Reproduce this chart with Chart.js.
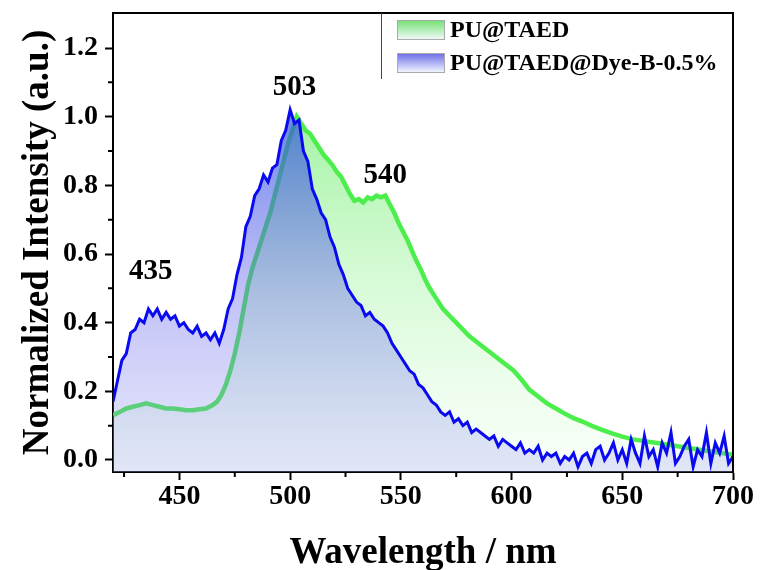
<!DOCTYPE html>
<html>
<head>
<meta charset="utf-8">
<style>
  html, body { margin: 0; padding: 0; background: #fff; }
  #wrap { width: 761px; height: 570px; position: relative; }
</style>
<script src="https://cdn.jsdelivr.net/npm/chart.js@4.4.1/dist/chart.umd.min.js"></script>
</head>
<body>
<div id="wrap"><canvas id="chartPL"></canvas></div>
<script>
// PU@TAED (green)
const greenNm = [420,423,426,429,432,435,438,441,444,447,450,453,456,459,462,465,467,469,471,473,
  475,477,479,481,483,485,487,489,491,493,495,497,499,501,503,505,507,509,511,513,515,517,519,521,
  523,525,527,529,531,533,535,537,539,541,543,545,547,549,551,553,555,557,559,561,563,566,569,572,
  575,578,581,584,587,590,594,598,601,605,608,612,616,620,624,628,632,636,640,645,650,655,660,665,
  670,675,680,685,690,695,700];
const greenY = [0.13,0.14,0.15,0.155,0.16,0.165,0.16,0.155,0.15,0.15,0.148,0.145,0.145,0.148,0.15,0.16,0.17,0.19,0.22,0.26,
  0.31,0.37,0.44,0.51,0.56,0.60,0.64,0.68,0.72,0.77,0.82,0.87,0.92,0.96,1.0,0.98,0.96,0.95,0.93,0.91,0.89,0.875,0.86,0.84,
  0.825,0.80,0.775,0.755,0.76,0.75,0.765,0.76,0.77,0.765,0.77,0.745,0.72,0.69,0.665,0.64,0.61,0.58,0.555,0.525,0.50,0.47,0.44,0.42,
  0.40,0.38,0.36,0.345,0.33,0.315,0.295,0.275,0.26,0.23,0.205,0.185,0.165,0.15,0.135,0.122,0.112,0.10,0.09,0.078,0.068,0.06,0.055,0.05,
  0.045,0.04,0.035,0.03,0.025,0.02,0.015];

// PU@TAED@Dye-B-0.5% (blue), every 2 nm from 420 to 700
const blueStart = 420, blueStep = 2;
const blueY = [0.17,0.23,0.29,0.31,0.37,0.38,0.41,0.40,0.44,0.42,0.44,0.41,0.43,0.41,0.42,0.39,0.40,0.38,0.37,0.39,
  0.36,0.37,0.35,0.37,0.34,0.38,0.44,0.47,0.54,0.59,0.68,0.71,0.77,0.79,0.83,0.81,0.85,0.86,0.93,0.96,
  1.02,0.98,0.99,0.90,0.87,0.79,0.76,0.72,0.70,0.65,0.62,0.57,0.54,0.50,0.48,0.46,0.45,0.42,0.43,0.41,
  0.40,0.39,0.37,0.34,0.32,0.30,0.28,0.26,0.25,0.22,0.21,0.19,0.17,0.16,0.14,0.13,0.14,0.11,0.12,0.10,
  0.11,0.08,0.09,0.08,0.07,0.06,0.07,0.04,0.06,0.05,0.04,0.03,0.05,0.02,0.03,0.02,0.04,0.00,0.02,0.01,
  0.02,-0.01,0.01,0.00,0.02,-0.02,0.01,0.02,-0.01,0.03,0.04,0.00,0.02,0.05,0.00,0.03,-0.01,0.06,0.02,-0.01,
  0.07,0.01,0.03,-0.02,0.05,0.02,0.08,-0.01,0.01,0.04,0.06,-0.02,0.03,0.01,0.08,-0.01,0.05,0.02,0.07,-0.01,0.01];

const xTicks = [450, 500, 550, 600, 650, 700];
const xMinor = [425, 475, 525, 575, 625, 675];
const yTicks = [0.0, 0.2, 0.4, 0.6, 0.8, 1.0, 1.2];
const yMinor = [0.1, 0.3, 0.5, 0.7, 0.9, 1.1];

const peakLabels = ["435", "503", "540"];
const peakLabelNm = [437, 502, 543];
const peakLabelY = [0.55, 1.085, 0.83];

const seriesNames = ["PU@TAED", "PU@TAED@Dye-B-0.5%"];

const SERIF = "'Liberation Serif', 'Times New Roman', serif";

function pts(xs, ys){ return ys.map((y, i) => ({ x: xs[i], y })); }
const blueNm = blueY.map((_, i) => blueStart + i * blueStep);

function vGrad(ctx, area, stops){
  const g = ctx.createLinearGradient(0, area.top + 100, 0, area.bottom);
  stops.forEach(([p, c]) => g.addColorStop(p, c));
  return g;
}
const greenStops = [[0, "rgba(60,230,60,0.48)"], [1, "rgba(190,250,190,0.1)"]];
const blueStops  = [[0, "rgba(45,80,225,0.70)"], [0.5, "rgba(100,100,235,0.40)"], [1, "rgba(145,145,240,0.22)"]];

const extras = {
  id: "extras",
  beforeDraw(chart){
    const c = chart.ctx;
    c.save(); c.fillStyle = "#fff"; c.fillRect(0, 0, chart.width, chart.height); c.restore();
  },
  afterDraw(chart){
    const c = chart.ctx, a = chart.chartArea;
    const xs = chart.scales.x, ys = chart.scales.y;
    c.save();
    // box
    c.strokeStyle = "#000"; c.lineWidth = 2;
    c.beginPath();
    c.moveTo(a.left, a.top); c.lineTo(a.right, a.top); c.lineTo(a.right, a.bottom);
    c.stroke();
    // minor ticks
    c.beginPath();
    yMinor.forEach(v => { const y = ys.getPixelForValue(v); c.moveTo(a.left - 5, y); c.lineTo(a.left, y); });
    xMinor.forEach(v => { const x = xs.getPixelForValue(v); c.moveTo(x, a.bottom); c.lineTo(x, a.bottom + 5); });
    c.stroke();
    // peak labels
    c.fillStyle = "#000";
    c.font = "bold 29px " + SERIF;
    c.textAlign = "center"; c.textBaseline = "middle";
    peakLabels.forEach((t, i) => c.fillText(t, xs.getPixelForValue(peakLabelNm[i]), ys.getPixelForValue(peakLabelY[i])));
    // legend
    const lx = 381, ly = a.top;
    c.strokeStyle = "#444"; c.lineWidth = 1;
    c.beginPath(); c.moveTo(lx + 0.5, ly); c.lineTo(lx + 0.5, ly + 66); c.stroke();
    const sw = [[greenStops, "#6fe06f"], [blueStops, "#6a6ae8"]];
    seriesNames.forEach((name, i) => {
      const top = ly + 7 + i * 33, h = 20, left = 397, w = 48;
      const g = c.createLinearGradient(0, top, 0, top + h);
      g.addColorStop(0, sw[i][1]); g.addColorStop(1, "#f6fbff");
      c.fillStyle = g; c.fillRect(left, top, w, h);
      c.strokeStyle = "#aaa"; c.strokeRect(left + 0.5, top + 0.5, w - 1, h - 1);
      c.fillStyle = "#000"; c.font = "bold 24px " + SERIF;
      c.textAlign = "left"; c.textBaseline = "middle";
      c.fillText(name, left + w + 5, top + h / 2 + 1);
    });
    c.restore();
  }
};

new Chart(document.getElementById("chartPL"), {
  type: "line",
  data: {
    datasets: [
      {
        label: seriesNames[0], data: pts(greenNm, greenY), order: 1,
        borderColor: "#4cee4c", borderWidth: 4.5, pointRadius: 0, tension: 0,
        fill: "start",
        backgroundColor: (ctx) => { const a = ctx.chart.chartArea; return a ? vGrad(ctx.chart.ctx, a, greenStops) : "transparent"; }
      },
      {
        label: seriesNames[1], data: pts(blueNm, blueY), order: 0,
        borderColor: "#0a0af0", borderWidth: 3, pointRadius: 0, tension: 0,
        fill: "start",
        backgroundColor: (ctx) => { const a = ctx.chart.chartArea; return a ? vGrad(ctx.chart.ctx, a, blueStops) : "transparent"; }
      }
    ]
  },
  options: {
    responsive: true, maintainAspectRatio: false, animation: false,
    layout: { padding: { top: 13, right: 28, left: 0, bottom: 0 } },
    plugins: { legend: { display: false }, tooltip: { enabled: false } },
    scales: {
      x: {
        type: "linear", min: 420, max: 700,
        afterBuildTicks: s => { s.ticks = xTicks.map(v => ({ value: v })); },
        afterFit: s => { s.height = 98; },
        ticks: { color: "#000", padding: 0, maxRotation: 0, font: { family: SERIF, weight: "bold", size: 28 } },
        grid: { drawOnChartArea: false, color: "#000", tickLength: 8, tickWidth: 2 },
        border: { color: "#000", width: 2 },
        title: { display: true, text: "Wavelength / nm", color: "#000", padding: { top: 0, bottom: 0 },
          font: { family: SERIF, weight: "bold", size: 37, lineHeight: 0.9 } }
      },
      y: {
        min: -0.035, max: 1.302,
        afterBuildTicks: s => { s.ticks = yTicks.map(v => ({ value: v })); },
        afterFit: s => { s.width = 113; s.paddingTop = 0; s.paddingBottom = 0; },
        ticks: { color: "#000", padding: 7, callback: v => v.toFixed(1), font: { family: SERIF, weight: "bold", size: 28, lineHeight: 0.5 } },
        grid: { drawOnChartArea: false, color: "#000", tickLength: 8, tickWidth: 2 },
        border: { color: "#000", width: 2 },
        title: { display: true, text: "Normalized Intensity (a.u.)", color: "#000", padding: { top: 16, bottom: 0 },
          font: { family: SERIF, weight: "bold", size: 37, lineHeight: 1.2 } }
      }
    }
  },
  plugins: [extras]
});
</script>
</body>
</html>
